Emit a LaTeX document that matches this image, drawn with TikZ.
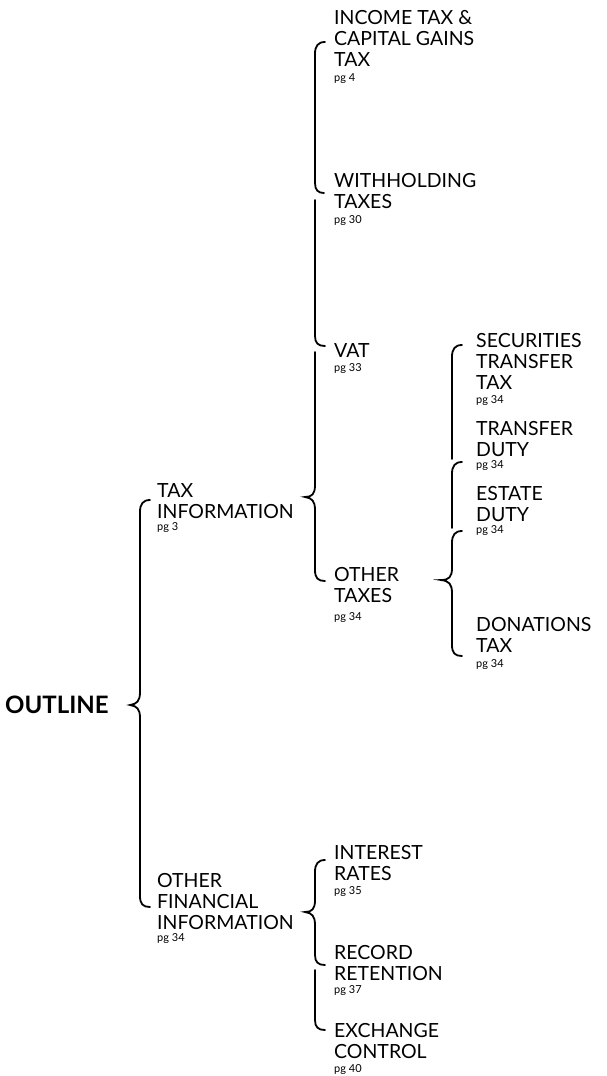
\documentclass[tikz,border=0pt]{standalone}
\usepackage{fontspec}
\setmainfont{Lato}
\newcommand{\pgref}[1]{{\fontsize{11}{12}\selectfont pg #1}}

\begin{document}
\begin{tikzpicture}[x=1pt,y=-1pt,
	head/.style={anchor=north west,inner sep=0pt,align=left,font=\fontsize{19.5}{21}\selectfont},
	brace/.style={line width=1.8pt,line cap=round}]
	\useasboundingbox (0,0) rectangle (607,1076);
	% root
	\node[anchor=west,inner sep=0pt,font=\fontsize{24}{26}\selectfont\bfseries] (outline) at (5,705) {OUTLINE};
	% first level
	\node[head] (taxinfo) at (157,483) {TAX\\INFORMATION\\[-8.5pt]\pgref{3}};
	\node[head] (fininfo) at (157,873) {OTHER\\FINANCIAL\\INFORMATION\\[-8.5pt]\pgref{34}};
	% tax information
	\node[head] (income) at (334,10) {INCOME TAX \&\\CAPITAL GAINS\\TAX\\[-6pt]\pgref{4}};
	\node[head] (withholding) at (334,173) {WITHHOLDING\\TAXES\\[-6pt]\pgref{30}};
	\node[head] (vat) at (334,343) {VAT\\[-7pt]\pgref{33}};
	\node[head] (othertaxes) at (334,567) {OTHER\\TAXES\\[-3pt]\pgref{34}};
	% other taxes
	\node[head] (securities) at (476,333) {SECURITIES\\TRANSFER\\TAX\\[-7pt]\pgref{34}};
	\node[head] (transfer) at (476,421) {TRANSFER\\DUTY\\[-8.5pt]\pgref{34}};
	\node[head] (estate) at (476,486) {ESTATE\\DUTY\\[-8.5pt]\pgref{34}};
	\node[head] (donations) at (476,617) {DONATIONS\\TAX\\[-6pt]\pgref{34}};
	% other financial information
	\node[head] (interest) at (334,845) {INTEREST\\RATES\\[-7pt]\pgref{35}};
	\node[head] (record) at (334,945) {RECORD\\RETENTION\\[-8pt]\pgref{37}};
	\node[head] (exchange) at (334,1023) {EXCHANGE\\CONTROL\\[-7pt]\pgref{40}};
	% braces
	\draw[brace] (150,500) .. controls (143,500) and (140,504) .. (140,512) -- (140,692)
		.. controls (140,701) and (137,704) .. (130,705) .. controls (137,706) and (140,709) .. (140,718)
		-- (140,896) .. controls (140,904) and (143,907) .. (150,907);
	\draw[brace] (325,42) .. controls (318,42) and (315,46) .. (315,54) -- (315,183)
		.. controls (315,190) and (318,193) .. (324,193);
	\draw[brace] (315,200) -- (315,336) .. controls (315,343) and (318,346) .. (325,346);
	\draw[brace] (315,352) -- (315,485) .. controls (315,494) and (312,497) .. (305,497)
		.. controls (312,498) and (315,501) .. (315,510) -- (315,570)
		.. controls (315,578) and (318,581) .. (325,581);
	\draw[brace] (462,345) .. controls (455,345) and (452,349) .. (452,357) -- (452,459);
	\draw[brace] (462,462) .. controls (455,462) and (452,466) .. (452,474) -- (452,528);
	\draw[brace] (462,531) .. controls (455,531) and (452,535) .. (452,543) -- (452,568)
		.. controls (452,577) and (449,580) .. (441,580) .. controls (449,581) and (452,584) .. (452,593)
		-- (452,645) .. controls (452,653) and (455,656) .. (462,656);
	\draw[brace] (325,860) .. controls (318,860) and (315,864) .. (315,872) -- (315,900)
		.. controls (315,909) and (312,912) .. (305,912) .. controls (312,913) and (315,916) .. (315,925)
		-- (315,955) .. controls (315,962) and (318,965) .. (325,965);
	\draw[brace] (315,970) -- (315,1020) .. controls (315,1027) and (318,1030) .. (325,1030);
\end{tikzpicture}
\end{document}
